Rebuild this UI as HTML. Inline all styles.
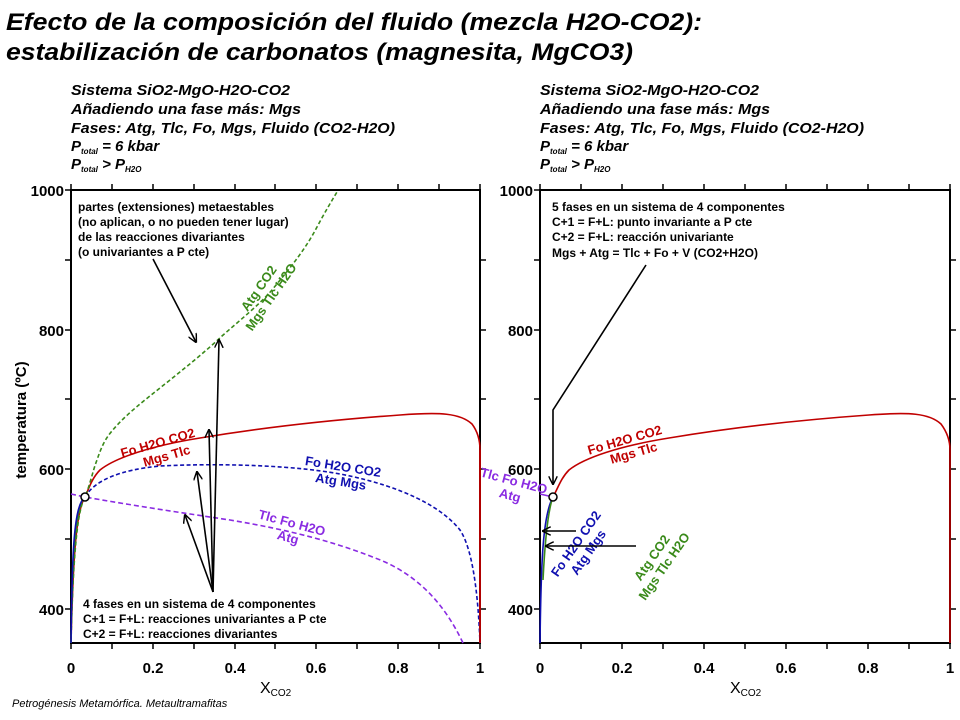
<!DOCTYPE html>
<html><head><meta charset="utf-8"><style>
html,body{margin:0;padding:0;background:#fff;}
svg{display:block;font-family:"Liberation Sans",Arial,sans-serif;}
.b{font-weight:bold}
.bi{font-weight:bold;font-style:italic}
</style></head><body>
<svg width="960" height="720" viewBox="0 0 960 720" xmlns="http://www.w3.org/2000/svg">
<defs>
<marker id="ah" viewBox="0 0 10 10" refX="9" refY="5" markerWidth="9" markerHeight="9" orient="auto" markerUnits="userSpaceOnUse">
<path d="M0,0 L10,5 L0,10" fill="none" stroke="#000" stroke-width="1.6"/>
</marker>
</defs>
<text x="6" y="30" class="bi" font-size="24" textLength="696" lengthAdjust="spacingAndGlyphs">Efecto de la composición del fluido (mezcla H2O-CO2):</text>
<text x="6" y="60" class="bi" font-size="24" textLength="627" lengthAdjust="spacingAndGlyphs">estabilización de carbonatos (magnesita, MgCO3)</text>

<g class="bi" font-size="15">
<text x="71" y="95" textLength="219" lengthAdjust="spacingAndGlyphs">Sistema SiO2-MgO-H2O-CO2</text>
<text x="71" y="114" textLength="230" lengthAdjust="spacingAndGlyphs">Añadiendo una fase más: Mgs</text>
<text x="71" y="133" textLength="324" lengthAdjust="spacingAndGlyphs">Fases: Atg, Tlc, Fo, Mgs, Fluido (CO2-H2O)</text>
<text x="71" y="151">P<tspan font-size="8" dy="3">total</tspan><tspan dy="-3"> = 6 kbar</tspan></text>
<text x="71" y="169">P<tspan font-size="8" dy="3">total</tspan><tspan dy="-3"> &gt; P</tspan><tspan font-size="8" dy="3">H2O</tspan></text>
<text x="540" y="95" textLength="219" lengthAdjust="spacingAndGlyphs">Sistema SiO2-MgO-H2O-CO2</text>
<text x="540" y="114" textLength="230" lengthAdjust="spacingAndGlyphs">Añadiendo una fase más: Mgs</text>
<text x="540" y="133" textLength="324" lengthAdjust="spacingAndGlyphs">Fases: Atg, Tlc, Fo, Mgs, Fluido (CO2-H2O)</text>
<text x="540" y="151">P<tspan font-size="8" dy="3">total</tspan><tspan dy="-3"> = 6 kbar</tspan></text>
<text x="540" y="169">P<tspan font-size="8" dy="3">total</tspan><tspan dy="-3"> &gt; P</tspan><tspan font-size="8" dy="3">H2O</tspan></text>
</g>

<g stroke="#000" stroke-width="2" fill="none">
<rect x="71" y="190" width="409" height="453"/>
<rect x="540" y="190" width="410" height="453"/>
</g>
<g stroke="#000" stroke-width="1.5">
<path d="M112,190v-6M153,190v-6M194,190v-6M235,190v-6M275,190v-6M316,190v-6M357,190v-6M398,190v-6M439,190v-6M112,643v6M153,643v6M194,643v6M235,643v6M275,643v6M316,643v6M357,643v6M398,643v6M439,643v6M71,643v6M480,643v6M71,190v-6M480,190v-6"/>
<path d="M71,190h-6M71,260h-6M71,330h-6M71,399h-6M71,469h-6M71,539h-6M71,609h-6M480,260h6M480,330h6M480,399h6M480,469h6M480,539h6M480,609h6"/>
<path d="M581,190v-6M622,190v-6M663,190v-6M704,190v-6M745,190v-6M786,190v-6M827,190v-6M868,190v-6M909,190v-6M581,643v6M622,643v6M663,643v6M704,643v6M745,643v6M786,643v6M827,643v6M868,643v6M909,643v6M540,643v6M950,643v6M540,190v-6M950,190v-6"/>
<path d="M540,190h-6M540,260h-6M540,330h-6M540,399h-6M540,469h-6M540,539h-6M540,609h-6M950,260h6M950,330h6M950,399h6M950,469h6M950,539h6M950,609h6"/>
</g>
<g class="b" font-size="15" text-anchor="end">
<text x="64" y="196">1000</text><text x="64" y="336">800</text><text x="64" y="475">600</text><text x="64" y="615">400</text>
<text x="533" y="196">1000</text><text x="533" y="336">800</text><text x="533" y="475">600</text><text x="533" y="615">400</text>
</g>
<g class="b" font-size="15" text-anchor="middle">
<text x="71" y="673">0</text><text x="153" y="673">0.2</text><text x="235" y="673">0.4</text><text x="316" y="673">0.6</text><text x="398" y="673">0.8</text><text x="480" y="673">1</text>
<text x="540" y="673">0</text><text x="622" y="673">0.2</text><text x="704" y="673">0.4</text><text x="786" y="673">0.6</text><text x="868" y="673">0.8</text><text x="950" y="673">1</text>
</g>
<text x="260" y="693" font-size="16">X<tspan font-size="10" dy="3">CO2</tspan></text>
<text x="730" y="693" font-size="16">X<tspan font-size="10" dy="3">CO2</tspan></text>
<text transform="translate(26,420) rotate(-90)" class="b" font-size="15" text-anchor="middle">temperatura (ºC)</text>

<g fill="none" stroke-width="1.6">
<path d="M71,643 C73,560 76,510 85,497 C89,488 92,478 100,470 C115,458 150,446 200,438 C260,428 330,420 400,415 C440,412 460,413 472,424 C478,432 480,440 480,450 L480,643" stroke="#c00000"/>
<path d="M71,643 C73,560 77,510 85,497 C90,485 93,470 97,460 C102,445 106,438 112,431 C125,415 145,400 165,384 C185,368 205,352 222,336 C240,320 258,306 272,290 C290,268 305,250 317,227 C325,212 331,202 337,192" stroke="#3a8a1a" stroke-dasharray="4,2.5"/>
<path d="M71,643 C72,560 75,505 85,497" stroke="#3a8a1a"/>
<path d="M71,643 C72,550 74,505 85,497" stroke="#1010b0"/>
<path d="M85,497 C95,480 120,470 160,466 C220,463 300,465 350,476 C400,487 440,505 460,530 C472,548 478,590 480,643" stroke="#1010b0" stroke-dasharray="4,2.5"/>
<path d="M71,494 L85,497 C130,505 183,513 230,520 C290,530 340,543 385,562 C420,578 445,605 463,643" stroke="#8a2be2" stroke-dasharray="5,3"/>
</g>
<circle cx="85" cy="497" r="4" fill="#fff" stroke="#000" stroke-width="1.5"/>

<g class="b" font-size="13" text-anchor="middle">
<g transform="translate(264,292) rotate(-55)" fill="#3a8a1a"><text y="-2">Atg CO2</text><text y="13">Mgs Tlc H2O</text></g>
<g transform="translate(160,451) rotate(-16)" fill="#c00000"><text y="-4">Fo H2O CO2</text><text x="5" y="11">Mgs Tlc</text></g>
<g transform="translate(342,474) rotate(9)" fill="#1010b0"><text y="-3">Fo H2O CO2</text><text y="12">Atg Mgs</text></g>
<g transform="translate(290,530) rotate(15)" fill="#8a2be2"><text y="-3">Tlc Fo H2O</text><text y="12">Atg</text></g>
</g>

<g class="b" font-size="12">
<text x="78" y="211">partes (extensiones) metaestables</text>
<text x="78" y="226">(no aplican, o no pueden tener lugar)</text>
<text x="78" y="241">de las reacciones divariantes</text>
<text x="78" y="256">(o univariantes a P cte)</text>
<text x="83" y="608">4 fases en un sistema de 4 componentes</text>
<text x="83" y="623">C+1 = F+L: reacciones univariantes a P cte</text>
<text x="83" y="638">C+2 = F+L: reacciones divariantes</text>
</g>
<g stroke="#000" stroke-width="1.6" fill="none" marker-end="url(#ah)">
<path d="M153,259 L196,342"/>
<path d="M213,592 L219,340"/>
<path d="M213,592 L209,430"/>
<path d="M213,592 L197,472"/>
<path d="M213,592 L185,515"/>
</g>

<g fill="none" stroke-width="1.6">
<path d="M480,450 L480,643" stroke="#c00000"/>
<path d="M553,497 C558,488 561,478 569,470 C584,458 619,446 669,438 C729,428 799,420 869,415 C909,412 929,413 941,424 C947,432 950,440 950,450 L950,643" stroke="#c00000"/>
<path d="M540,643 C541,560 543,515 553,497" stroke="#1010b0"/>
<path d="M543,580 C545,540 548,510 553,497" stroke="#3a8a1a"/>
<path d="M540,494 L553,497" stroke="#8a2be2"/>
</g>
<circle cx="553" cy="497" r="4" fill="#fff" stroke="#000" stroke-width="1.5"/>
<g class="b" font-size="13" text-anchor="middle">
<g transform="translate(627,448) rotate(-16)" fill="#c00000"><text y="-4">Fo H2O CO2</text><text x="5" y="11">Mgs Tlc</text></g>
<g transform="translate(512,488) rotate(15)" fill="#8a2be2"><text y="-3">Tlc Fo H2O</text><text y="12">Atg</text></g>
<g transform="translate(582,548) rotate(-55)" fill="#1010b0"><text y="-3">Fo H2O CO2</text><text y="12">Atg Mgs</text></g>
<g transform="translate(658,562) rotate(-55)" fill="#3a8a1a"><text y="-3">Atg CO2</text><text y="12">Mgs Tlc H2O</text></g>
</g>
<g class="b" font-size="12">
<text x="552" y="211">5 fases en un sistema de 4 componentes</text>
<text x="552" y="226">C+1 = F+L: punto invariante a P cte</text>
<text x="552" y="241">C+2 = F+L: reacción univariante</text>
<text x="552" y="257">Mgs + Atg = Tlc + Fo + V (CO2+H2O)</text>
</g>
<g stroke="#000" stroke-width="1.6" fill="none">
<path d="M646,265 L553,410 L553,484" marker-end="url(#ah)"/>
<path d="M576,531 L543,531" marker-end="url(#ah)"/>
<path d="M636,546 L546,546" marker-end="url(#ah)"/>
</g>

<text x="12" y="707" font-size="11" font-style="italic">Petrogénesis  Metamórfica.  Metaultramafitas</text>
</svg>
</body></html>
